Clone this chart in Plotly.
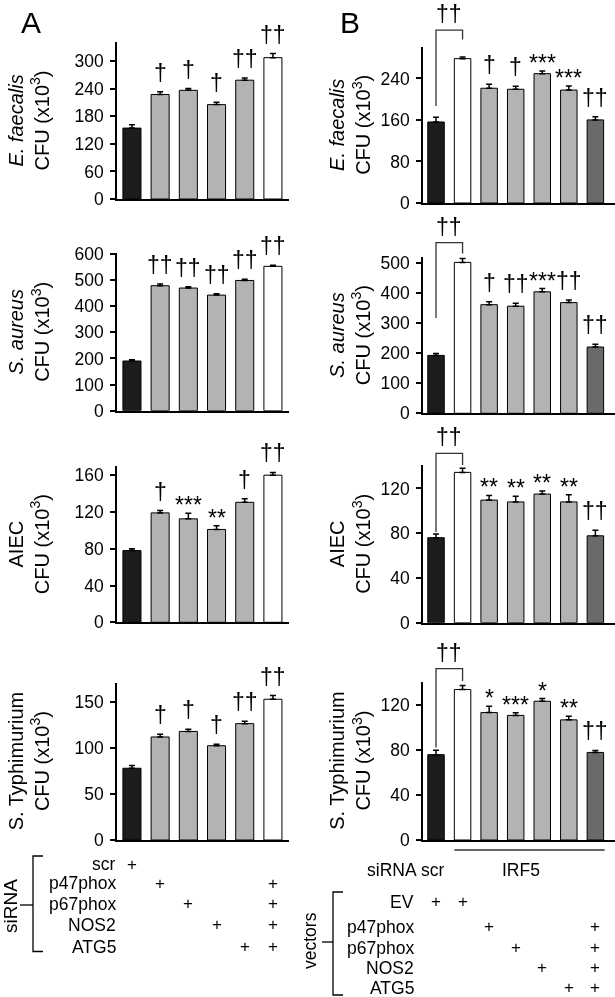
import plotly.graph_objects as go

W, H = 615, 997
FONT = "Liberation Sans, Arial, sans-serif"

# ---------------- data ----------------
# Panel A (siRNA knock-down), 6 conditions
a_ef = [154, 227, 236, 205, 258, 307]
a_ef_err = [7, 6, 4, 5, 5, 9]
a_ef_sig = ["", "†", "†", "†", "††", "††"]

a_sa = [190, 478, 469, 442, 498, 552]
a_sa_err = [5, 6, 5, 5, 5, 4]
a_sa_sig = ["", "††", "††", "††", "††", "††"]

a_aiec = [78, 119, 112.5, 101, 130.5, 160]
a_aiec_err = [2, 2.5, 6, 4, 4, 3]
a_aiec_sig = ["", "†", "***", "**", "†", "††"]

a_st = [78, 112, 118, 102.5, 126.5, 153]
a_st_err = [3, 3, 2.5, 1.5, 2.5, 4]
a_st_sig = ["", "†", "†", "†", "††", "††"]

# Panel B (IRF5 siRNA + vectors), 7 conditions
b_ef = [156, 278, 221, 219, 249, 217.5, 160]
b_ef_err = [9, 3, 7.5, 6, 5, 8, 6]
b_ef_sig = ["", "", "†", "†", "***", "***", "††"]

b_sa = [193, 503, 362, 357, 405, 369, 221]
b_sa_err = [6, 13, 10, 10, 11, 9, 9]
b_sa_sig = ["", "", "†", "††", "***", "††", "††"]

b_aiec = [76, 134.4, 109.6, 108, 115, 108, 77.7]
b_aiec_err = [3.3, 3.6, 4.2, 5, 2.7, 6.3, 5]
b_aiec_sig = ["", "", "**", "**", "**", "**", "††"]

b_st = [76, 134, 113.5, 111, 123.6, 107, 78]
b_st_err = [3.9, 3.6, 5.6, 2.4, 2.4, 3.3, 1.8]
b_st_sig = ["", "", "*", "***", "*", "**", "††"]

# bracket levels (left arm bottom, top, right arm bottom) in data units
b_brackets = [(187, 333, 315), (318, 569, 533), (81, 151.4, 141), (82.4, 152.6, 141.6)]
bracket_sig = "††"

a_colors = ["#1c1c1c", "#b3b3b3", "#b3b3b3", "#b3b3b3", "#b3b3b3", "#ffffff"]
b_colors = ["#1c1c1c", "#ffffff", "#b3b3b3", "#b3b3b3", "#b3b3b3", "#b3b3b3", "#6a6a6a"]

a_rows = ["scr", "p47phox", "p67phox", "NOS2", "ATG5"]
a_plus = [[1, 0, 0, 0, 0, 0],
          [0, 1, 0, 0, 0, 1],
          [0, 0, 1, 0, 0, 1],
          [0, 0, 0, 1, 0, 1],
          [0, 0, 0, 0, 1, 1]]
b_rows = ["EV", "p47phox", "p67phox", "NOS2", "ATG5"]
b_plus = [[1, 1, 0, 0, 0, 0, 0],
          [0, 0, 1, 0, 0, 0, 1],
          [0, 0, 0, 1, 0, 0, 1],
          [0, 0, 0, 0, 1, 0, 1],
          [0, 0, 0, 0, 0, 1, 1]]

cfu = "CFU (x10<sup>3</sup>)"
titles = ["<i>E. faecalis</i><br>" + cfu, "<i>S. aureus</i><br>" + cfu,
          "AIEC<br>" + cfu, "S. Typhimurium<br>" + cfu]

# ---------------- layout helpers ----------------
def px(x):
    return x / W

def py(y):
    return 1 - y / H

# (top px, bottom px) of each row's plot area
a_rows_px = [(42, 199), (253, 410.7), (466, 622.3), (682.7, 840)]
b_rows_px = [(46.7, 203), (257, 413.3), (465, 622.7), (681.7, 840)]
a_ymax = [341, 603, 170, 171]
b_ymax = [301, 521, 141, 141]
a_ticks = [list(range(0, 301, 60)), list(range(0, 601, 100)), list(range(0, 161, 40)), [0, 50, 100, 150]]
b_ticks = [[0, 80, 160, 240], list(range(0, 501, 100)), [0, 40, 80, 120], [0, 40, 80, 120]]

a_data = [(a_ef, a_ef_err, a_ef_sig), (a_sa, a_sa_err, a_sa_sig),
          (a_aiec, a_aiec_err, a_aiec_sig), (a_st, a_st_err, a_st_sig)]
b_data = [(b_ef, b_ef_err, b_ef_sig), (b_sa, b_sa_err, b_sa_sig),
          (b_aiec, b_aiec_err, b_aiec_sig), (b_st, b_st_err, b_st_sig)]

fig = go.Figure()
layout = dict(width=W, height=H, autosize=False, margin=dict(l=0, r=0, t=0, b=0, pad=0),
              paper_bgcolor="white", plot_bgcolor="white", showlegend=False,
              font=dict(family=FONT, color="black", size=17))
annotations = []
shapes = []


def ann(**kw):
    d = dict(showarrow=False, xanchor="center", yanchor="middle", borderpad=0)
    d.update(kw)
    annotations.append(d)


def sig_label(s, x, y, xref, yref, yshift_dag, yshift_star):
    dag = "†" in s
    ann(x=x, y=y, xref=xref, yref=yref, text=s, yanchor="bottom",
        yshift=yshift_dag if dag else yshift_star,
        font=dict(size=23, family=FONT, color="black"))


def axis_pair(idx, xdom, xrange_, ydom, ymax, ticks):
    xs = "" if idx == 1 else str(idx)
    layout["xaxis" + xs] = dict(domain=xdom, range=xrange_, anchor="y" + xs,
                                showline=True, linecolor="black", linewidth=1.7,
                                showticklabels=False, ticks="", showgrid=False, zeroline=False,
                                fixedrange=True, automargin=False)
    layout["yaxis" + xs] = dict(domain=ydom, range=[0, ymax], anchor="x" + xs,
                                tickvals=ticks, ticks="outside", ticklen=5, tickwidth=1.5,
                                tickcolor="black", showline=True, linecolor="black",
                                linewidth=1.7, showgrid=False, zeroline=False,
                                tickfont=dict(size=17.5, family=FONT), ticklabelstandoff=3,
                                fixedrange=True, automargin=False)
    return "x" + xs, "y" + xs


def add_panel(vals, errs, sigs, colors, xref, yref, barw):
    n = len(vals)
    fig.add_trace(go.Bar(x=list(range(n)), y=vals, width=barw,
                         marker=dict(color=colors, line=dict(color="black", width=1)),
                         error_y=dict(type="data", array=errs, arrayminus=[0] * n,
                                      symmetric=False, color="black", thickness=1.5, width=3),
                         xaxis=xref, yaxis=yref, hoverinfo="skip"))
    for i, s in enumerate(sigs):
        if s:
            sig_label(s, i, vals[i] + errs[i], xref, yref, 5, -6)


idx = 1
for r in range(4):
    # panel A
    t, b = a_rows_px[r]
    xa, ya = axis_pair(idx, [px(117), px(289)], [-0.53, 5.57], [py(b), py(t)], a_ymax[r], a_ticks[r])
    v, e, s = a_data[r]
    add_panel(v, e, s, a_colors, xa, ya, 0.64)
    ann(x=px(29), y=py((t + b) / 2), xref="paper", yref="paper",
        text=titles[r], textangle=-90, font=dict(size=20, family=FONT))
    idx += 1
    # panel B
    t, b = b_rows_px[r]
    xb, yb = axis_pair(idx, [px(423), px(614.5)], [-0.49, 6.72], [py(b), py(t)], b_ymax[r], b_ticks[r])
    v, e, s = b_data[r]
    add_panel(v, e, s, b_colors, xb, yb, 0.62)
    ann(x=px(350), y=py((t + b) / 2), xref="paper", yref="paper",
        text=titles[r], textangle=-90, font=dict(size=20, family=FONT))
    lb, tp, rb = b_brackets[r]
    ym = b_ymax[r]
    shapes.append(dict(type="path", xref=xb, yref=yb + " domain",
                       path=f"M 0 {lb/ym} L 0 {tp/ym} L 1 {tp/ym} L 1 {rb/ym}",
                       line=dict(color="#333333", width=1.3)))
    sig_label(bracket_sig, 0.5, tp / ym, xb, yb + " domain", 2, 0)
    idx += 1

# panel letters
ann(x=px(30.5), y=py(22.5), xref="paper", yref="paper", text="A", font=dict(size=30, family=FONT))
ann(x=px(350), y=py(22.5), xref="paper", yref="paper", text="B", font=dict(size=30, family=FONT))

# ---------------- condition tables ----------------
a_row_y = [864, 883, 903.5, 924.5, 946.5]
for j, name in enumerate(a_rows):
    ann(x=px(117), y=py(a_row_y[j]), xref="paper", yref="paper", text=name,
        xanchor="right", font=dict(size=17.5, family=FONT))
    for i, on in enumerate(a_plus[j]):
        if on:
            ann(x=i, y=py(a_row_y[j]), xref="x7", yref="paper", text="+",
                font=dict(size=17, family=FONT))
shapes.append(dict(type="path", xref="paper", yref="paper",
                   path=f"M {px(43)} {py(856)} L {px(33)} {py(856)} L {px(33)} {py(951.5)} L {px(43)} {py(951.5)}",
                   line=dict(color="black", width=1.3)))
shapes.append(dict(type="line", xref="paper", yref="paper", x0=px(20), x1=px(33),
                   y0=py(905), y1=py(905), line=dict(color="black", width=1.3)))
ann(x=px(10), y=py(906), xref="paper", yref="paper", text="siRNA",
    textangle=-90, font=dict(size=19, family=FONT))

# panel B table
shapes.append(dict(type="line", xref="x8", yref="paper", x0=0.69, x1=6.35,
                   y0=py(850), y1=py(850), line=dict(color="#333333", width=1.5)))
ann(x=px(418), y=py(870), xref="paper", yref="paper", text="siRNA",
    xanchor="right", font=dict(size=17.5, family=FONT))
ann(x=-0.1, y=py(870), xref="x8", yref="paper", text="scr", font=dict(size=17.5, family=FONT))
ann(x=3.2, y=py(870), xref="x8", yref="paper", text="IRF5", font=dict(size=17.5, family=FONT))
b_row_y = [901.5, 926.5, 947.5, 967.5, 987.5]
for j, name in enumerate(b_rows):
    ann(x=px(415), y=py(b_row_y[j]), xref="paper", yref="paper", text=name,
        xanchor="right", font=dict(size=17.5, family=FONT))
    for i, on in enumerate(b_plus[j]):
        if on:
            ann(x=i, y=py(b_row_y[j]), xref="x8", yref="paper", text="+",
                font=dict(size=17, family=FONT))
shapes.append(dict(type="path", xref="paper", yref="paper",
                   path=f"M {px(343)} {py(892)} L {px(333)} {py(892)} L {px(333)} {py(995)} L {px(343)} {py(995)}",
                   line=dict(color="black", width=1.3)))
shapes.append(dict(type="line", xref="paper", yref="paper", x0=px(322), x1=px(333),
                   y0=py(942), y1=py(942), line=dict(color="black", width=1.3)))
ann(x=px(310), y=py(941), xref="paper", yref="paper", text="vectors",
    textangle=-90, font=dict(size=17.5, family=FONT))

layout["annotations"] = annotations
layout["shapes"] = shapes
fig.update_layout(**layout)
fig.write_html("out.html", config={"displayModeBar": False},
               post_script=("document.body.style.margin='0';document.body.style.overflow='hidden';"
                            "var gd=document.querySelector('.plotly-graph-div');"
                            "if(gd){gd.style.willChange='transform';}"))
